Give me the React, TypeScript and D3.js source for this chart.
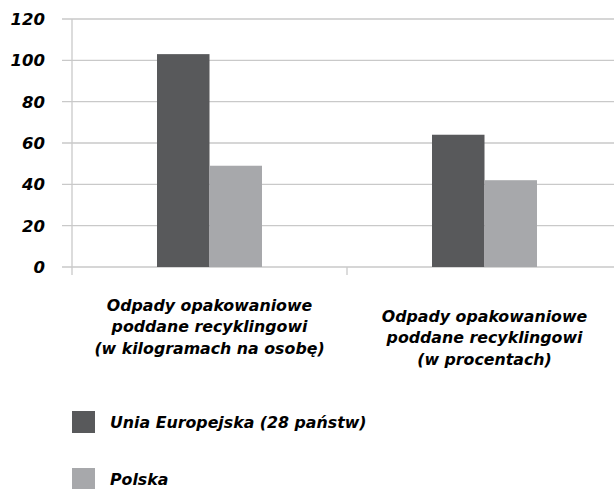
import React from "react";
import * as d3 from "d3";

const categories = [
  ["Odpady opakowaniowe", "poddane recyklingowi", "(w kilogramach na osobę)"],
  ["Odpady opakowaniowe", "poddane recyklingowi", "(w procentach)"],
];
const seriesNames = ["Unia Europejska (28 państw)", "Polska"];
const euValues = [103, 64];
const plValues = [49, 42];
const yTicks = [0, 20, 40, 60, 80, 100, 120];
const colors = ["#58595b", "#a7a8ab"];

const W = 614;
const H = 489;
const FONT = "'DejaVu Sans', Verdana, sans-serif";

export default function App() {
  const x0 = 72;
  const x1 = 622;
  const y = d3.scaleLinear().domain([0, 120]).range([267, 19]);
  const xBand = d3.scaleBand<number>().domain([0, 1]).range([x0, x1]).paddingInner(0).paddingOuter(0);
  const inner = d3.scaleBand<number>().domain([0, 1]).range([0, 105]);
  const bw = xBand.bandwidth();
  const series = [euValues, plValues];
  const labelOffsets = [0, 11];

  return (
    <svg width={W} height={H} style={{ position: "absolute", left: 0, top: 0, background: "#fff" }}>
      {yTicks.map((t) => (
        <g key={t}>
          <line x1={62} x2={W} y1={y(t)} y2={y(t)} stroke="#c9c9c9" strokeWidth={1.3} />
          <text
            x={45}
            y={y(t)}
            dy="0.36em"
            textAnchor="end"
            fontFamily={FONT}
            fontWeight="bold"
            fontStyle="italic"
            fontSize={16.5}
            fill="#000"
          >
            {t}
          </text>
        </g>
      ))}
      <line x1={x0} x2={x0} y1={y(120)} y2={275} stroke="#c9c9c9" strokeWidth={1.3} />
      <line x1={xBand(1)} x2={xBand(1)} y1={267} y2={275} stroke="#c9c9c9" strokeWidth={1.3} />
      {categories.map((_, ci) =>
        series.map((vals, si) => {
          const cx = (xBand(ci) as number) + bw / 2 - 52.5 + (inner(si) as number);
          return (
            <rect
              key={`${ci}-${si}`}
              x={cx}
              y={y(vals[ci])}
              width={inner.bandwidth()}
              height={y(0) - y(vals[ci])}
              fill={colors[si]}
            />
          );
        })
      )}
      {categories.map((lines, ci) => (
        <text
          key={ci}
          x={(xBand(ci) as number) + bw / 2}
          textAnchor="middle"
          fontFamily={FONT}
          fontWeight="bold"
          fontStyle="italic"
          fontSize={15.8}
          fill="#000"
        >
          {lines.map((l, li) => (
            <tspan key={li} x={(xBand(ci) as number) + bw / 2} y={305 + labelOffsets[ci] + li * 21.5} dy="0.36em">
              {l}
            </tspan>
          ))}
        </text>
      ))}
      {seriesNames.map((n, i) => (
        <g key={n}>
          <rect x={72} y={411 + i * 57} width={23} height={22} fill={colors[i]} />
          <text
            x={110}
            y={422 + i * 57}
            dy="0.36em"
            fontFamily={FONT}
            fontWeight="bold"
            fontStyle="italic"
            fontSize={15.8}
            fill="#000"
          >
            {n}
          </text>
        </g>
      ))}
    </svg>
  );
}
